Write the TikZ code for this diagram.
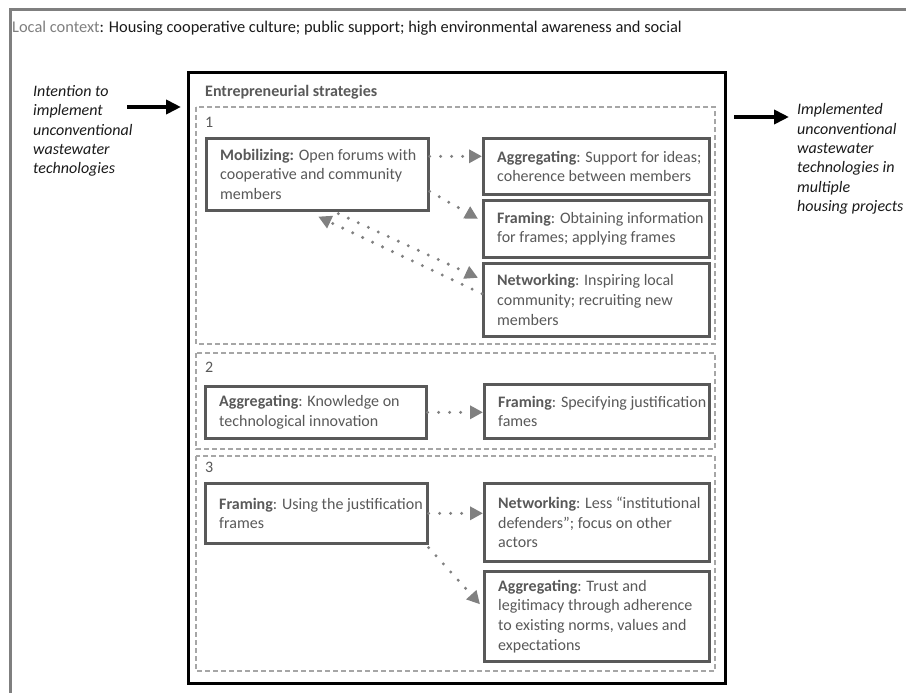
\documentclass[tikz,border=0pt]{standalone}
\usepackage{fontspec}
\setmainfont{Carlito}
\usetikzlibrary{arrows.meta}
\definecolor{boxgray}{HTML}{595959}
\definecolor{dashgray}{HTML}{A6A6A6}
\definecolor{congray}{HTML}{808080}
\definecolor{framegray}{HTML}{7F7F7F}
\definecolor{txtblack}{HTML}{1A1A1A}
\tikzset{
  sbox/.style={draw=boxgray, line width=2.6pt, inner sep=0pt, anchor=north west},
  btxt/.style={text=boxgray, font=\fontsize{16}{19.7}\selectfont, align=left, anchor=west, inner sep=0pt},
  dbox/.style={draw=dashgray, line width=1.3pt, dash pattern=on 5pt off 3pt},
  dotcon/.style={draw=congray, line width=3.3pt, line cap=round, dash pattern=on 0pt off 11pt,
    -{Triangle[length=13pt,width=13pt]}},
  bigarrow/.style={draw=black, line width=4pt, -{Triangle[length=15pt,width=14pt]}},
  sidetxt/.style={text=txtblack, font=\fontsize{16}{19.4}\selectfont\itshape, align=left, anchor=west, inner sep=0pt},
  numtxt/.style={text=boxgray, font=\fontsize{16}{18}\selectfont, anchor=west, inner sep=0pt}
}
\begin{document}
\begin{tikzpicture}[x=1pt,y=-1pt]
\useasboundingbox (0,0) rectangle (906,693);
\fill[white] (0,0) rectangle (906,693);
% outer frame
\draw[framegray, line width=3pt] (10,700) -- (10,10) -- (915,10);
\node[anchor=west, inner sep=0pt, font=\fontsize{16.4}{19}\selectfont, text=txtblack] (ctx) at (12,28)
  {\textcolor{framegray}{Local context}: Housing cooperative culture; public support; high environmental awareness and social};
% main box
\draw[black, line width=3pt] (188,73) rectangle (725,683);
\node[anchor=west, inner sep=0pt, font=\fontsize{16}{18}\selectfont\bfseries, text=boxgray] (title) at (205,92) {Entrepreneurial strategies};
% dashed groups
\draw[dbox] (196,107) rectangle (715,344);
\draw[dbox] (196,353) rectangle (715,449);
\draw[dbox] (196,456) rectangle (715,671);
\node[numtxt] (n1) at (205,122) {1};
\node[numtxt] (n2) at (205,367) {2};
\node[numtxt] (n3) at (205,467) {3};
% boxes group 1
\node[sbox, minimum width=222pt, minimum height=72pt] (mob) at (205,137) {};
\node[btxt] at ([xshift=15pt]mob.west) {\textbf{Mobilizing:} Open forums with\\cooperative and community\\members};
\node[sbox, minimum width=226pt, minimum height=56pt] (agg1) at (482,137) {};
\node[btxt] at ([xshift=15pt]agg1.west) {\textbf{Aggregating}: Support for ideas;\\coherence between members};
\node[sbox, minimum width=226pt, minimum height=57pt] (fram1) at (482,199) {};
\node[btxt] at ([xshift=15pt]fram1.west) {\textbf{Framing}: Obtaining information\\for frames; applying frames};
\node[sbox, minimum width=226pt, minimum height=73pt] (net1) at (482,262) {};
\node[btxt] at ([xshift=15pt]net1.west) {\textbf{Networking}: Inspiring local\\community; recruiting new\\members};
% boxes group 2
\node[sbox, minimum width=221pt, minimum height=52pt] (agg2) at (204,385) {};
\node[btxt] at ([xshift=15pt]agg2.west) {\textbf{Aggregating}: Knowledge on\\technological innovation};
\node[sbox, minimum width=225pt, minimum height=54pt] (fram2) at (483,383) {};
\node[btxt] at ([xshift=15pt]fram2.west) {\textbf{Framing}: Specifying justification\\fames};
% boxes group 3
\node[sbox, minimum width=222pt, minimum height=60pt] (fram3) at (204,482) {};
\node[btxt] at ([xshift=15pt]fram3.west) {\textbf{Framing}: Using the justification\\frames};
\node[sbox, minimum width=225pt, minimum height=78pt] (net3) at (483,482) {};
\node[btxt] at ([xshift=15pt]net3.west) {\textbf{Networking}: Less “institutional\\defenders”; focus on other\\actors};
\node[sbox, minimum width=225pt, minimum height=90pt] (agg3) at (483,570) {};
\node[btxt] at ([xshift=15pt]agg3.west) {\textbf{Aggregating}: Trust and\\legitimacy through adherence\\to existing norms, values and\\expectations};
% dotted connectors
\draw[dotcon] ([yshift=18pt]mob.east) -- ([yshift=10pt]agg1.west);
\draw[dotcon] ([yshift=-17pt]mob.east) -- ([xshift=-4pt,yshift=10pt]fram1.west);
\draw[dotcon] ([xshift=21pt,yshift=-2pt]mob.south) -- ([xshift=-4pt,yshift=22pt]net1.west);
\draw[dotcon] ([yshift=6pt]net1.west) -- ([xshift=1pt,yshift=-5pt]mob.south);
\draw[dotcon] (agg2.east) -- (agg2.east -| fram2.west);
\draw[dotcon] (fram3.east) -- (fram3.east -| net3.west);
\draw[dotcon] ([yshift=-3pt]fram3.south east) -- ([xshift=-3pt,yshift=12pt]agg3.west);
% side texts and arrows
\node[sidetxt] (intent) at (33,131) {Intention to\\implement\\unconventional\\wastewater\\technologies};
\node[sidetxt] (impl) at (797,159) {Implemented\\unconventional\\wastewater\\technologies in\\multiple\\housing projects};
\coordinate (la) at (127,107);
\coordinate (lb) at (181,107);
\coordinate (ra) at (734,117);
\coordinate (rb) at (789,117);
\draw[bigarrow] (la) -- (lb);
\draw[bigarrow] (ra) -- (rb);
\end{tikzpicture}
\end{document}
